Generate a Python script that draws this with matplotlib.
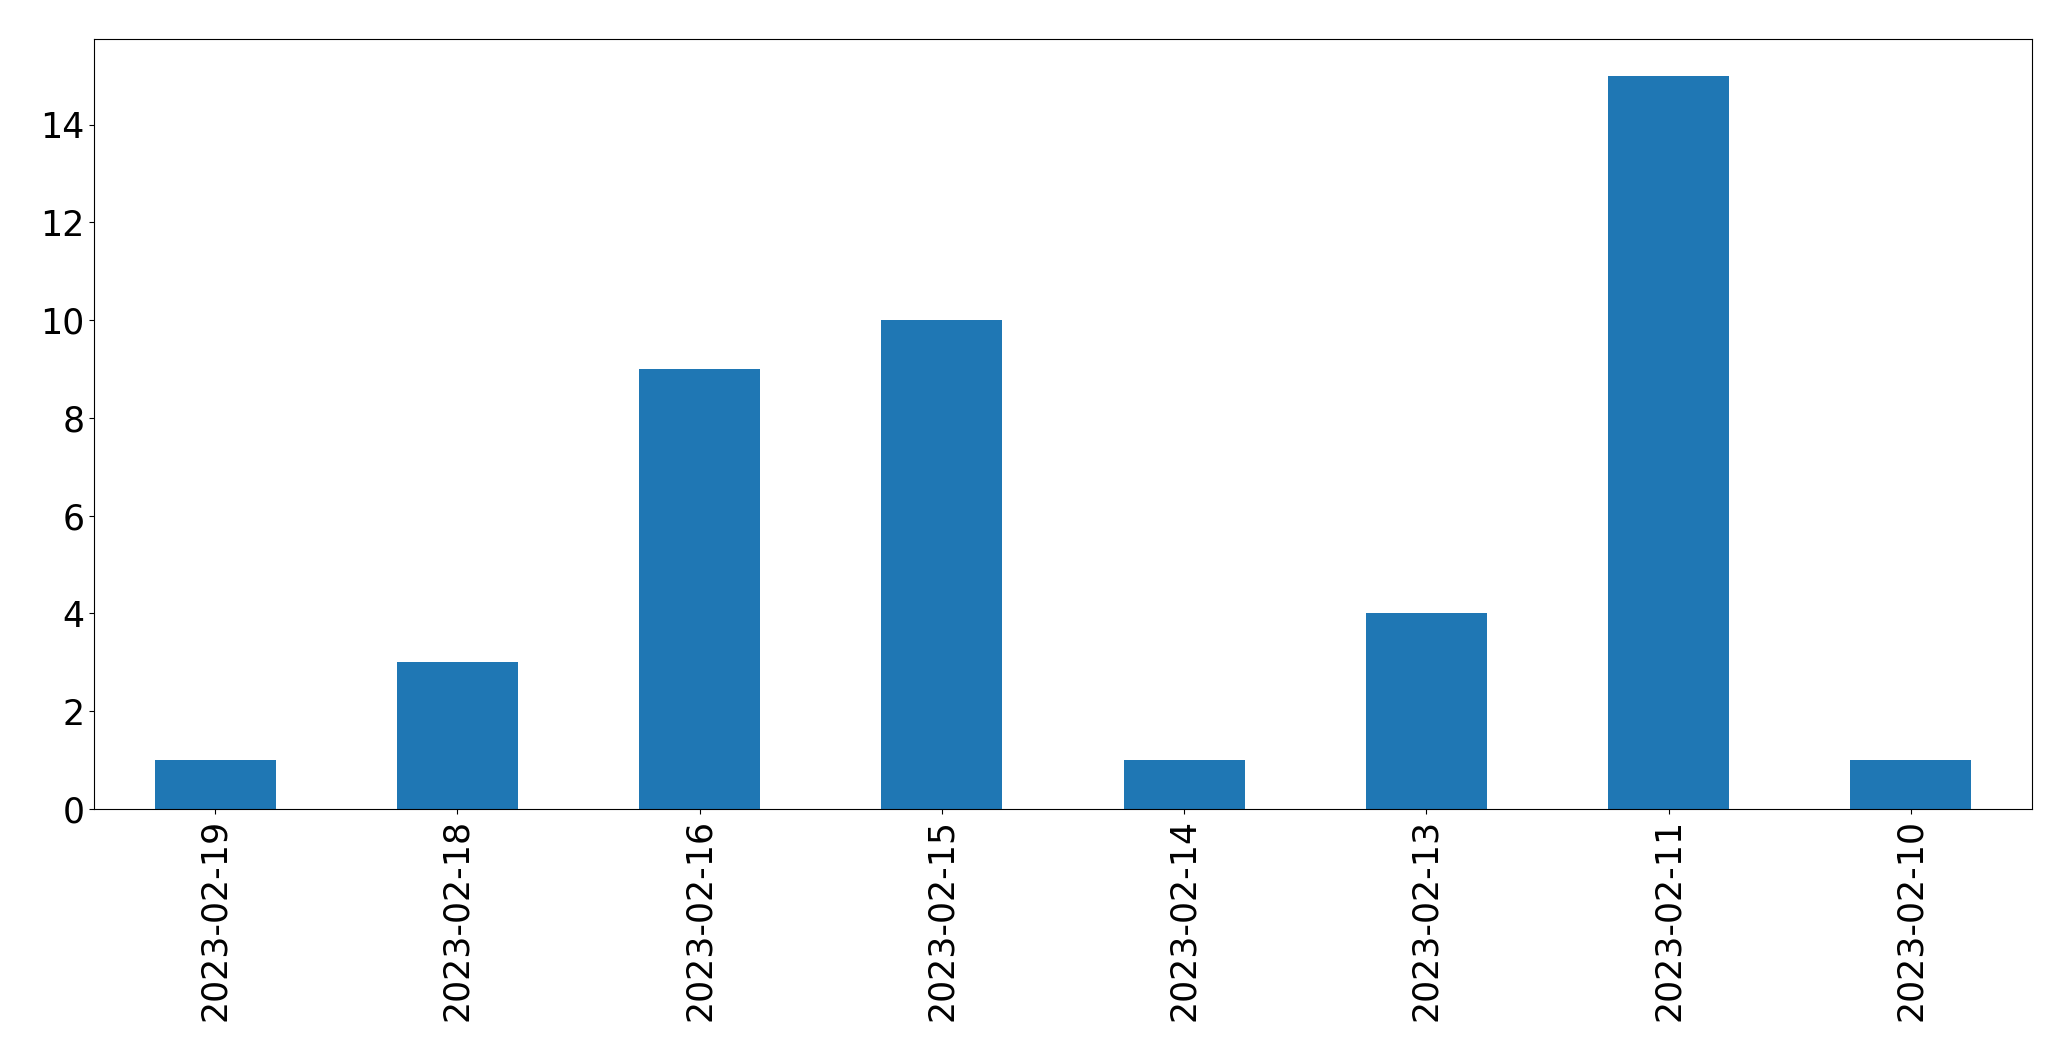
import matplotlib
matplotlib.use("Agg")
import matplotlib.pyplot as plt
import pandas as pd

# counts per day
dates = ['2023-02-19', '2023-02-18', '2023-02-16', '2023-02-15',
         '2023-02-14', '2023-02-13', '2023-02-11', '2023-02-10']
counts = [1, 3, 9, 10, 1, 4, 15, 1]

s = pd.Series(counts, index=dates)

fig = plt.figure(figsize=(20.71, 10.61), dpi=100)
ax = fig.add_axes([94 / 2071, 1 - 809 / 1061, (2032 - 94) / 2071, (809 - 39) / 1061])
s.plot(kind='bar', ax=ax, color='#1f77b4', fontsize=25)

plt.savefig('out.png', dpi=100)
